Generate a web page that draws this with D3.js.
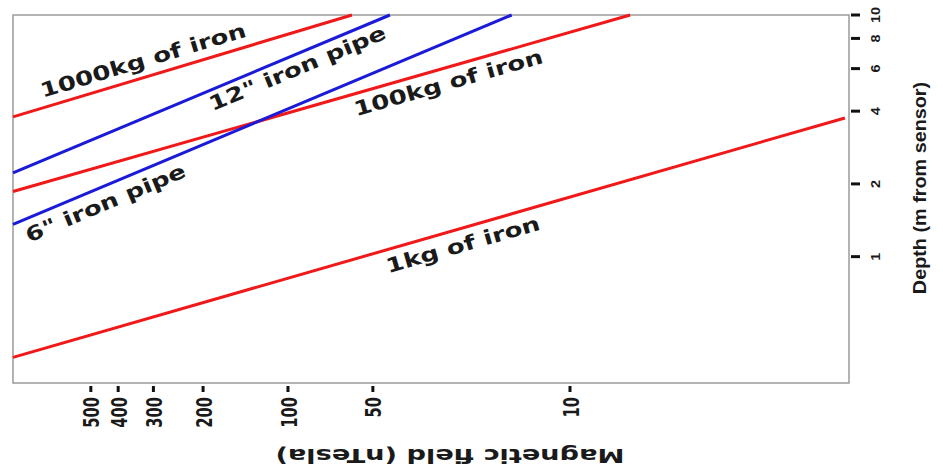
<!DOCTYPE html>
<html>
<head>
<meta charset="utf-8">
<script src="https://cdn.jsdelivr.net/npm/d3@7"></script>
<style>
    body { margin: 0; background: #fff; }
    text { fill: #1a1a1a; }
</style>
</head>
<body>
<div id="chart"></div>
<script>
// Depth vs magnetic field for buried iron objects (log-log).

// data
// ---------------------------------------------------

// each series: [magnetic field (nT), depth (m)] at the two ends of the line
let seriesNames = ["1kg of iron", "100kg of iron", "1000kg of iron", "12\" iron pipe", "6\" iron pipe"];
let seriesKind = ["iron", "iron", "iron", "pipe", "pipe"];
let series1kg = [[944, 0.383], [1.06, 3.75]];
let series100kg = [[944, 1.86], [6.12, 10]];
let series1000kg = [[944, 3.79], [59.3, 10]];
let series12pipe = [[944, 2.22], [43.5, 10]];
let series6pipe = [[944, 1.36], [16.1, 10]];
let seriesValues = [series1kg, series100kg, series1000kg, series12pipe, series6pipe];

// where along each line its label sits (field value, nT)
let labelField = [23.6, 26.6, 321, 90.6, 434];

let fieldTicks = [500, 400, 300, 200, 100, 50, 10];
let depthTicks = [1, 2, 4, 6, 8, 10];

let fieldDomain = [944, 1.025];
let depthDomain = [0.3, 10];

// layout
// ---------------------------------------------------

let width = 943,
    height = 472,
    leftPad = 13,
    rightEdge = 849,
    topPad = 15,
    bottomEdge = 383;

let colors = { iron: "#f01818", pipe: "#1a1ad8" };
// vertical offset of label baseline from its line
let labelOffset = [24, 23, -10, 22, 25];

let svg = d3.select("#chart").append("svg")
    .attr("width", width)
    .attr("height", height)
    .style("font-family", "'DejaVu Sans', sans-serif")
    .style("font-weight", "bold");

let xScale = d3.scaleLog()
    .domain(fieldDomain)
    .range([leftPad, rightEdge]);

let yScale = d3.scaleLog()
    .domain(depthDomain)
    .range([bottomEdge, topPad]);

// stretch a text element to a multiple of its natural length
function stretch(sel, factor) {
    sel.each(function () {
        let len = this.getComputedTextLength();
        d3.select(this)
            .attr("textLength", len * factor)
            .attr("lengthAdjust", "spacingAndGlyphs");
    });
}

// frame
// ---------------------------------------------------

svg.append("rect")
    .attr("x", leftPad)
    .attr("y", topPad)
    .attr("width", rightEdge - leftPad)
    .attr("height", bottomEdge - topPad)
    .attr("fill", "none")
    .attr("stroke", "#9a9a9a")
    .attr("stroke-width", 1.5);

// lines
// ---------------------------------------------------

let line = d3.line()
    .x(d => xScale(d[0]))
    .y(d => yScale(d[1]));

let lineData = seriesNames.map((name, i) => ({
    name: name,
    kind: seriesKind[i],
    values: seriesValues[i],
    at: labelField[i],
    offset: labelOffset[i]
}));

let plot = svg.append("g").attr("class", "plot");

plot.selectAll(".series")
    .data(lineData)
    .enter()
    .append("path")
        .attr("class", "series")
        .attr("d", d => line(d.values))
        .attr("fill", "none")
        .attr("stroke", d => colors[d.kind])
        .attr("stroke-width", 3);

// labels along the lines
function lineAt(d, field) {
    let a = d.values[0], b = d.values[1];
    let t = (Math.log(field) - Math.log(a[0])) / (Math.log(b[0]) - Math.log(a[0]));
    let depth = Math.exp(Math.log(a[1]) + t * (Math.log(b[1]) - Math.log(a[1])));
    return [xScale(field), yScale(depth)];
}

function lineAngle(d) {
    let a = d.values[0], b = d.values[1];
    return Math.atan2(yScale(b[1]) - yScale(a[1]), xScale(b[0]) - xScale(a[0])) * 180 / Math.PI;
}

plot.selectAll(".seriesLabel")
    .data(lineData)
    .enter()
    .append("text")
        .attr("class", "seriesLabel")
        .attr("transform", d => {
            let p = lineAt(d, d.at);
            return `translate(${p[0]}, ${p[1] + d.offset}) rotate(${lineAngle(d)})`;
        })
        .attr("text-anchor", "middle")
        .style("font-size", "20px")
        .text(d => d.name)
        .call(stretch, 1.3);

// bottom axis (magnetic field)
// ---------------------------------------------------

let bottomAxis = svg.append("g").attr("class", "bottomAxis");

bottomAxis.selectAll(".tick")
    .data(fieldTicks)
    .enter()
    .append("line")
        .attr("class", "tick")
        .attr("x1", d => xScale(d))
        .attr("x2", d => xScale(d))
        .attr("y1", bottomEdge + 3)
        .attr("y2", bottomEdge + 9)
        .attr("stroke", "#111")
        .attr("stroke-width", 3);

bottomAxis.selectAll(".tickLabel")
    .data(fieldTicks)
    .enter()
    .append("text")
        .attr("class", "tickLabel")
        .attr("transform", d => `translate(${xScale(d) + 1}, ${bottomEdge + 14}) rotate(-90)`)
        .attr("text-anchor", "end")
        .attr("dy", "0.36em")
        .style("font-size", "21px")
        .text(d => d)
        .call(stretch, 0.7);

bottomAxis.append("text")
    .attr("transform", `translate(450, 449) rotate(180)`)
    .attr("text-anchor", "middle")
    .style("font-size", "20px")
    .text("Magnetic field (nTesla)")
    .call(stretch, 1.36);

// right axis (depth)
// ---------------------------------------------------

let rightAxis = svg.append("g").attr("class", "rightAxis");

rightAxis.selectAll(".tick")
    .data(depthTicks)
    .enter()
    .append("line")
        .attr("class", "tick")
        .attr("x1", rightEdge + 2)
        .attr("x2", rightEdge + 11)
        .attr("y1", d => yScale(d))
        .attr("y2", d => yScale(d))
        .attr("stroke", "#111")
        .attr("stroke-width", 3);

rightAxis.selectAll(".tickLabel")
    .data(depthTicks)
    .enter()
    .append("text")
        .attr("class", "tickLabel")
        .attr("transform", d => `translate(876, ${yScale(d)}) rotate(-90)`)
        .attr("text-anchor", "middle")
        .attr("dy", "0.36em")
        .style("font-family", "'Liberation Sans', Arial, sans-serif")
        .style("font-size", "12px")
        .text(d => d)
        .call(stretch, 1.2);

rightAxis.append("text")
    .attr("transform", `translate(926, 188) rotate(-90)`)
    .attr("text-anchor", "middle")
    .style("font-family", "'Liberation Sans', Arial, sans-serif")
    .style("font-size", "18px")
    .text("Depth (m from sensor)")
    .call(stretch, 1.1);
</script>
</body>
</html>
